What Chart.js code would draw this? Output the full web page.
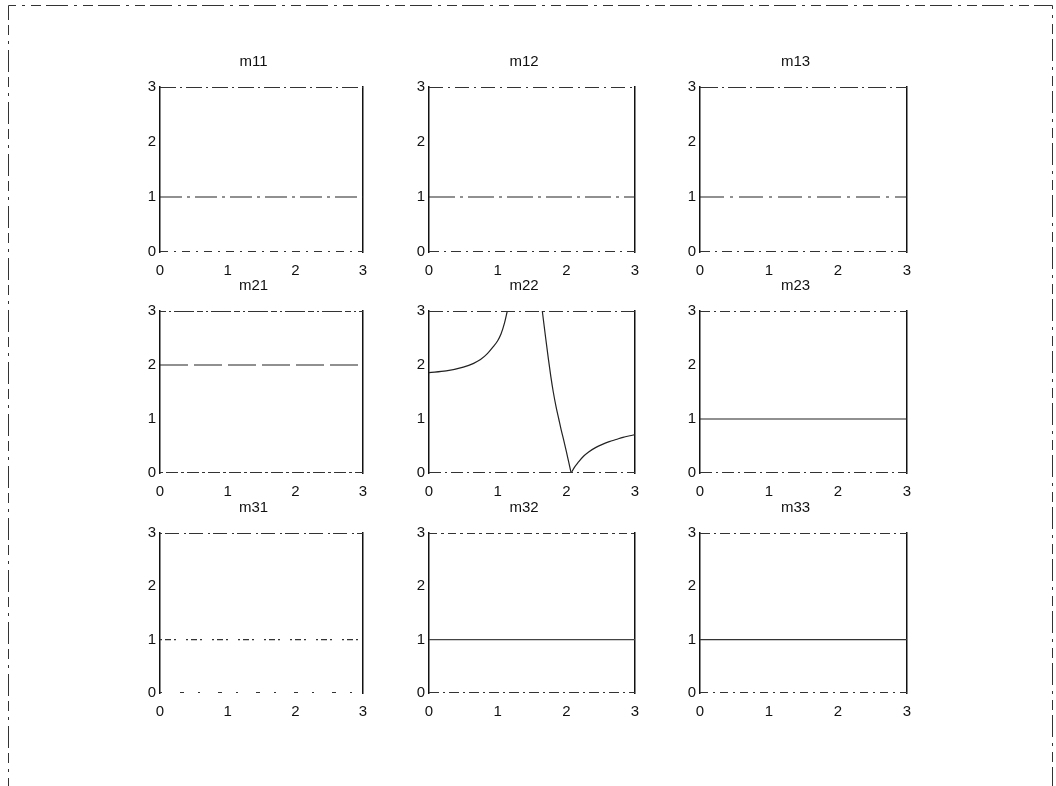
<!DOCTYPE html>
<html>
<head>
<meta charset="utf-8">
<script src="https://cdn.jsdelivr.net/npm/chart.js@4.4.1/dist/chart.umd.min.js"></script>
<style>
  html, body { margin: 0; padding: 0; background: #fff; }
  body { width: 1056px; height: 786px; position: relative; overflow: hidden; }
  canvas { position: absolute; }
</style>
</head>
<body>
<canvas id="frame" width="1056" height="786" style="left:0;top:0;width:1056px;height:786px"></canvas>
<script>
// ---- data ----
const panelTitles = ['m11', 'm12', 'm13', 'm21', 'm22', 'm23', 'm31', 'm32', 'm33'];
const xTickLabels = ['0', '1', '2', '3'];
const yTickLabels = ['0', '1', '2', '3'];

const levelX = [0, 3];
const m11 = [1, 1];
const m12 = [1, 1];
const m13 = [1, 1];
const m21 = [2, 2];
const m23 = [1, 1];
const m31 = [1, 1];
const m32 = [1, 1];
const m33 = [1, 1];

// m22: three visible branches
const m22aX = [0, 0.25, 0.5, 0.65, 0.75, 0.85, 0.93, 1.0, 1.05, 1.1, 1.14];
const m22aY = [1.86, 1.89, 1.96, 2.03, 2.10, 2.21, 2.33, 2.45, 2.58, 2.78, 3.0];
const m22bX = [1.65, 1.70, 1.74, 1.775, 1.81, 1.85, 1.89, 1.925, 1.96, 2.0, 2.035, 2.07];
const m22bY = [3.0, 2.49, 2.10, 1.78, 1.50, 1.23, 1.00, 0.80, 0.62, 0.40, 0.20, 0.0];
const m22cX = [2.07, 2.12, 2.175, 2.25, 2.325, 2.425, 2.525, 2.625, 2.725, 2.825, 2.925, 3.0];
const m22cY = [0.0, 0.11, 0.20, 0.31, 0.39, 0.47, 0.53, 0.58, 0.62, 0.66, 0.69, 0.71];

// ---- layout / styles ----
const colLeft = [160, 429, 700];
const colWidth = [203, 206, 207];
const rowTop = [87, 311, 533];
const rowHeight = [165, 162, 160];
const yAxisW = 16, sidePad = 16, titleH = 34, xAxisH = 26;

const FONT = "'Liberation Sans', Arial, Helvetica, sans-serif";
const INK = '#111';

const lineStyles = [
  { dash: [22, 5, 3, 5], color: '#222' },
  { dash: [26, 5, 3, 5], color: '#222' },
  { dash: [24, 6, 3, 6], color: '#222' },
  { dash: [28, 6], color: '#222' },
  { dash: [], color: '#222' },
  { dash: [], color: '#222' },
  { dash: [2, 3, 6, 3, 2, 10], color: '#333' },
  { dash: [], color: '#444' },
  { dash: [], color: '#333' }
];
const boxStyles = [
  { top: [16, 4, 2, 4], bottom: [8, 6, 2, 6] },
  { top: [14, 5, 2, 5], bottom: [10, 5, 2, 5] },
  { top: [18, 4, 2, 4], bottom: [10, 5, 2, 5] },
  { top: [6, 3, 2, 3, 20, 3], bottom: [3, 3, 12, 3] },
  { top: [14, 4, 2, 4], bottom: [12, 4, 2, 4] },
  { top: [10, 4, 2, 4], bottom: [12, 4, 2, 4] },
  { top: [2, 3, 14, 5], bottom: [2, 18, 4, 14] },
  { top: [8, 4, 3, 4], bottom: [10, 4, 2, 4] },
  { top: [10, 4, 2, 4], bottom: [8, 5, 2, 5] }
];

// outer dash-dot frame of the figure (decoration only)
(function drawFrame() {
  const fc = document.getElementById('frame').getContext('2d');
  fc.strokeStyle = '#333';
  fc.lineWidth = 1;
  fc.setLineDash([22, 6, 3, 6, 10, 5]);
  fc.beginPath();
  fc.moveTo(8.5, 800); fc.lineTo(8.5, 5.5); fc.lineTo(1052.5, 5.5); fc.lineTo(1052.5, 800);
  fc.stroke();
})();

function pts(xs, ys) { return xs.map((x, i) => ({ x: x, y: ys[i] })); }

const panelData = [
  [pts(levelX, m11)],
  [pts(levelX, m12)],
  [pts(levelX, m13)],
  [pts(levelX, m21)],
  [pts(m22aX, m22aY), pts(m22bX, m22bY), pts(m22cX, m22cY)],
  [pts(levelX, m23)],
  [pts(levelX, m31)],
  [pts(levelX, m32)],
  [pts(levelX, m33)]
];

// draws the dash-dot top and bottom edges of each plot box
const boxEdges = {
  id: 'boxEdges',
  afterDatasetsDraw(chart, args, opts) {
    const { ctx, chartArea: a } = chart;
    ctx.save();
    ctx.strokeStyle = opts.color;
    ctx.lineWidth = 1;
    ctx.setLineDash(opts.top);
    ctx.beginPath(); ctx.moveTo(a.left, a.top + 0.5); ctx.lineTo(a.right, a.top + 0.5); ctx.stroke();
    ctx.setLineDash(opts.bottom);
    ctx.beginPath(); ctx.moveTo(a.left, a.bottom - 0.5); ctx.lineTo(a.right, a.bottom - 0.5); ctx.stroke();
    ctx.restore();
  }
};

for (let r = 0; r < 3; r++) {
  for (let c = 0; c < 3; c++) {
    const idx = r * 3 + c;
    const cv = document.createElement('canvas');
    const w = yAxisW + colWidth[c] + sidePad;
    const h = titleH + rowHeight[r] + xAxisH;
    cv.width = w; cv.height = h;
    cv.style.left = (colLeft[c] - yAxisW) + 'px';
    cv.style.top = (rowTop[r] - titleH) + 'px';
    cv.style.width = w + 'px'; cv.style.height = h + 'px';
    document.body.appendChild(cv);

    const st = lineStyles[idx];
    const datasets = panelData[idx].map(d => ({
      data: d,
      borderColor: st.color,
      borderWidth: 1.2,
      borderDash: st.dash,
      pointRadius: 0,
      fill: false,
      cubicInterpolationMode: 'monotone'
    }));

    new Chart(cv, {
      type: 'line',
      data: { datasets: datasets },
      plugins: [boxEdges],
      options: {
        responsive: false,
        animation: false,
        devicePixelRatio: 1,
        layout: { autoPadding: false, padding: { left: 0, right: sidePad, top: 0, bottom: 0 } },
        plugins: {
          legend: { display: false },
          tooltip: { enabled: false },
          title: {
            display: true, text: panelTitles[idx], color: INK,
            font: { family: FONT, size: 15, weight: 'normal' },
            padding: { top: 0, bottom: 16 }
          },
          boxEdges: { color: '#333', top: boxStyles[idx].top, bottom: boxStyles[idx].bottom }
        },
        scales: {
          x: {
            type: 'linear', position: 'bottom', min: 0, max: 3,
            ticks: {
              stepSize: 1, padding: 10, color: INK, maxRotation: 0,
              font: { family: FONT, size: 15 },
              callback: (v) => xTickLabels[v] !== undefined ? xTickLabels[v] : ''
            },
            grid: { display: false, drawTicks: false },
            border: { display: false },
            afterFit: (s) => { s.height = xAxisH; }
          },
          y: {
            type: 'linear', position: 'left', min: 0, max: 3,
            ticks: {
              stepSize: 1, padding: 4, color: INK,
              font: { family: FONT, size: 15 },
              callback: (v) => yTickLabels[v] !== undefined ? yTickLabels[v] : ''
            },
            grid: { display: false, drawTicks: false },
            border: { display: true, color: INK, width: 1.5 },
            afterFit: (s) => { s.width = yAxisW; }
          },
          y2: {
            type: 'linear', position: 'right', min: 0, max: 3,
            ticks: { display: false },
            grid: { display: false, drawTicks: false },
            border: { display: true, color: INK, width: 1.5 },
            afterFit: (s) => { s.width = 0; }
          }
        }
      }
    });
  }
}
</script>
</body>
</html>
